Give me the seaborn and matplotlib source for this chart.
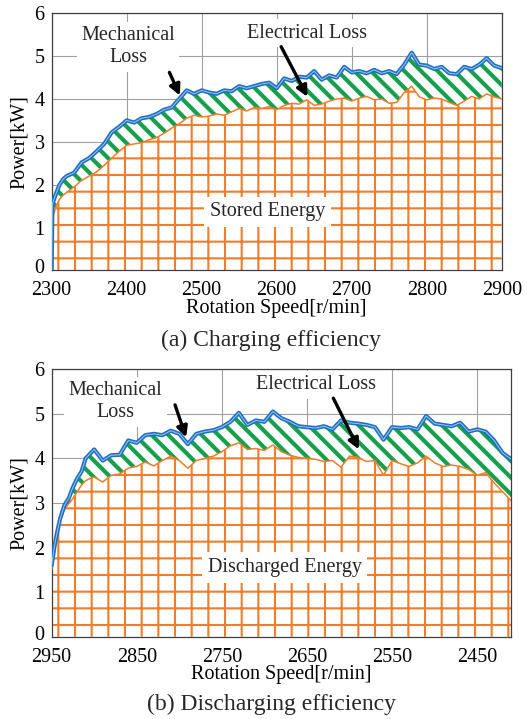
import matplotlib
matplotlib.use("Agg")
import matplotlib.pyplot as plt
import matplotlib.transforms as mtransforms
import seaborn as sns

# ---------------- data ----------------
speed_a = [2300, 2301, 2305, 2310, 2315, 2320, 2330, 2340, 2350, 2360, 2370, 2380, 2390,
           2400, 2410, 2420, 2430, 2440, 2450, 2460, 2470, 2480, 2490, 2500, 2510, 2520,
           2530, 2540, 2550, 2560, 2570, 2580, 2590, 2600, 2610, 2620, 2630, 2640, 2650,
           2660, 2670, 2680, 2690, 2700, 2710, 2720, 2730, 2740, 2750, 2760, 2770, 2780,
           2790, 2800, 2810, 2820, 2830, 2840, 2850, 2860, 2870, 2880, 2890, 2900]
input_a = [0.0, 1.55, 1.75, 1.98, 2.12, 2.20, 2.28, 2.52, 2.62, 2.78, 2.95, 3.22, 3.35,
           3.50, 3.45, 3.55, 3.58, 3.65, 3.75, 3.80, 4.00, 4.20, 4.12, 4.20, 4.15, 4.12,
           4.20, 4.18, 4.30, 4.25, 4.30, 4.35, 4.38, 4.25, 4.48, 4.42, 4.52, 4.50, 4.65,
           4.45, 4.55, 4.50, 4.75, 4.62, 4.65, 4.60, 4.68, 4.60, 4.65, 4.58, 4.80, 5.08,
           4.80, 4.78, 4.70, 4.75, 4.60, 4.58, 4.75, 4.70, 4.80, 4.95, 4.78, 4.72]
stored_a = [0.0, 1.20, 1.45, 1.65, 1.75, 1.82, 1.95, 2.10, 2.20, 2.30, 2.45, 2.62, 2.78,
            2.92, 2.95, 2.98, 3.05, 3.10, 3.20, 3.32, 3.42, 3.55, 3.62, 3.58, 3.60, 3.65,
            3.62, 3.70, 3.78, 3.72, 3.80, 3.78, 3.82, 3.75, 3.85, 3.90, 3.88, 3.98, 3.85,
            3.88, 3.95, 4.00, 4.02, 3.95, 4.02, 4.06, 3.98, 4.00, 3.90, 3.92, 4.15, 4.30,
            4.05, 3.98, 4.02, 4.00, 3.92, 3.85, 3.95, 4.06, 4.00, 4.12, 4.05, 4.00]

speed_b = [2950, 2947, 2944, 2940, 2935, 2930, 2925, 2920, 2915, 2910, 2905, 2900,
           2890, 2880, 2870, 2860, 2850, 2840, 2830, 2820, 2810, 2800, 2790, 2780, 2770,
           2760, 2750, 2740, 2730, 2720, 2710, 2700, 2690, 2680, 2670, 2660, 2650, 2640,
           2630, 2620, 2610, 2600, 2590, 2580, 2570, 2560, 2550, 2540, 2530, 2520, 2510,
           2500, 2490, 2480, 2470, 2460, 2450, 2440, 2430, 2420, 2410]
output_b = [1.60, 2.00, 2.30, 2.65, 2.95, 3.10, 3.35, 3.55, 3.70, 4.00, 4.10, 4.20,
            3.95, 4.07, 4.08, 4.40, 4.35, 4.52, 4.55, 4.52, 4.62, 4.55, 4.32, 4.55, 4.60,
            4.63, 4.70, 4.82, 5.02, 4.75, 4.85, 4.82, 5.05, 4.90, 4.82, 4.72, 4.70, 4.68,
            4.72, 4.65, 4.85, 4.80, 4.78, 4.75, 4.70, 4.42, 4.70, 4.68, 4.70, 4.65, 4.95,
            4.78, 4.75, 4.72, 4.80, 4.60, 4.65, 4.60, 4.40, 4.12, 3.98]
discharged_b = [1.50, 1.80, 2.20, 2.60, 2.85, 2.98, 3.10, 3.25, 3.40, 3.50, 3.55, 3.58,
                3.47, 3.62, 3.65, 3.78, 3.82, 3.92, 3.83, 3.95, 4.05, 3.95, 3.78, 3.95, 4.00,
                4.05, 4.15, 4.28, 4.35, 4.20, 4.22, 4.18, 4.30, 4.15, 4.07, 4.02, 4.00, 3.98,
                3.93, 3.95, 3.80, 4.05, 4.02, 3.93, 3.95, 3.62, 3.95, 3.88, 3.82, 3.90, 4.05,
                3.90, 3.82, 3.85, 3.82, 3.75, 3.62, 3.68, 3.45, 3.25, 3.05]

xticks_a = [2300, 2400, 2500, 2600, 2700, 2800, 2900]
xticks_b = [2950, 2850, 2750, 2650, 2550, 2450]
yticks = [0, 1, 2, 3, 4, 5, 6]

# ---------------- style ----------------
sns.set_theme(style="whitegrid")
plt.rcParams['font.family'] = ['Liberation Serif', 'DejaVu Serif']

BLUE = '#1f6fc0'
BLUE_LIGHT = '#9cc8ee'
ORANGE = '#ef7d2c'
GREEN = '#17a04c'
GRID = '#a0a0a0'
FS = 14.5

fig = plt.figure(figsize=(5.27, 7.19), dpi=100)
ax1 = fig.add_axes([0.098, 0.624, 0.854, 0.3575])
ax2 = fig.add_axes([0.098, 0.1145, 0.872, 0.372])


def hatched_fill(ax, x, lo, hi, color, hatch, hlw):
    with plt.rc_context({'hatch.linewidth': hlw}):
        coll = ax.fill_between(x, lo, hi, facecolor='white', edgecolor=color,
                               hatch=hatch, linewidth=0, zorder=1)
    if hasattr(coll, 'set_hatch_linewidth'):
        coll.set_hatch_linewidth(hlw)
    return coll


def panel(ax, x, total, inner, xlim, xticks):
    ax.set_axisbelow(True)
    ax.grid(True, color=GRID, linewidth=0.8)
    hatched_fill(ax, x, 0, inner, ORANGE, '+', 1.5)
    hatched_fill(ax, x, inner, total, GREEN, '\\\\', 3.0)
    sns.lineplot(x=x, y=inner, color=ORANGE, linewidth=1.1, ax=ax,
                 estimator=None, zorder=3)
    sns.lineplot(x=x, y=total, color=BLUE, linewidth=3.0, ax=ax,
                 estimator=None, zorder=4)
    sns.lineplot(x=x, y=total, color=BLUE_LIGHT, linewidth=0.7, ax=ax,
                 estimator=None, zorder=5)
    ax.set_xlim(*xlim)
    ax.set_ylim(0, 6)
    ax.set_xticks(xticks)
    ax.set_yticks(yticks)
    ax.tick_params(length=0, labelsize=FS, colors='black')
    ax.tick_params(axis='x', pad=8)
    ax.tick_params(axis='y', pad=5)
    for s in ax.spines.values():
        s.set_color('#404040')
        s.set_linewidth(0.9)
    ax.set_xlabel('Rotation Speed[r/min]', fontsize=FS, labelpad=-1, color='black')
    ax.set_ylabel('Power[kW]', fontsize=FS, labelpad=4, color='black')
    # nudge the "0" label up slightly so it does not touch the first x label
    lab0 = ax.get_yticklabels()[0]
    lab0.set_transform(lab0.get_transform() +
                       mtransforms.ScaledTranslation(0, 3 / 72, fig.dpi_scale_trans))


panel(ax1, speed_a, input_a, stored_a, (2300, 2900), xticks_a)
panel(ax2, speed_b, output_b, discharged_b, (2950, 2410), xticks_b)

box = dict(facecolor='white', edgecolor='none', pad=3)
arrow = dict(arrowstyle='-|>', color='black', lw=2.4, mutation_scale=16,
             shrinkA=0, shrinkB=0)

# panel (a) annotations
ax1.text(2402, 5.22, 'Mechanical\nLoss', ha='center', va='center', fontsize=FS,
         bbox=box, zorder=6, linespacing=1.25)
ax1.annotate('', xy=(2471, 4.08), xytext=(2457, 4.62), arrowprops=arrow, zorder=7)
ax1.text(2640, 5.54, 'Electrical Loss', ha='center', va='center', fontsize=FS,
         bbox=box, zorder=6)
ax1.annotate('', xy=(2641, 4.05), xytext=(2606, 5.22), arrowprops=arrow, zorder=7)
ax1.text(2588, 1.37, 'Stored Energy', ha='center', va='center', fontsize=FS,
         bbox=dict(facecolor='white', edgecolor='none', pad=4), zorder=6)

# panel (b) annotations
ax2.text(2875, 5.27, 'Mechanical\nLoss', ha='center', va='center', fontsize=FS,
         bbox=box, zorder=6, linespacing=1.25)
ax2.annotate('', xy=(2792, 4.47), xytext=(2805, 5.20), arrowprops=arrow, zorder=7)
ax2.text(2639, 5.65, 'Electrical Loss', ha='center', va='center', fontsize=FS,
         bbox=box, zorder=6)
ax2.annotate('', xy=(2589, 4.2), xytext=(2619, 5.35), arrowprops=arrow, zorder=7)
ax2.text(2676, 1.55, 'Discharged Energy', ha='center', va='center', fontsize=FS,
         bbox=dict(facecolor='white', edgecolor='none', pad=4), zorder=6)

fig.text(0.515, 1 - 340 / 719, '(a) Charging efficiency', ha='center', va='center',
         fontsize=17)
fig.text(0.515, 1 - 704 / 719, '(b) Discharging efficiency', ha='center', va='center',
         fontsize=17)

fig.savefig('out.png', dpi=100)
